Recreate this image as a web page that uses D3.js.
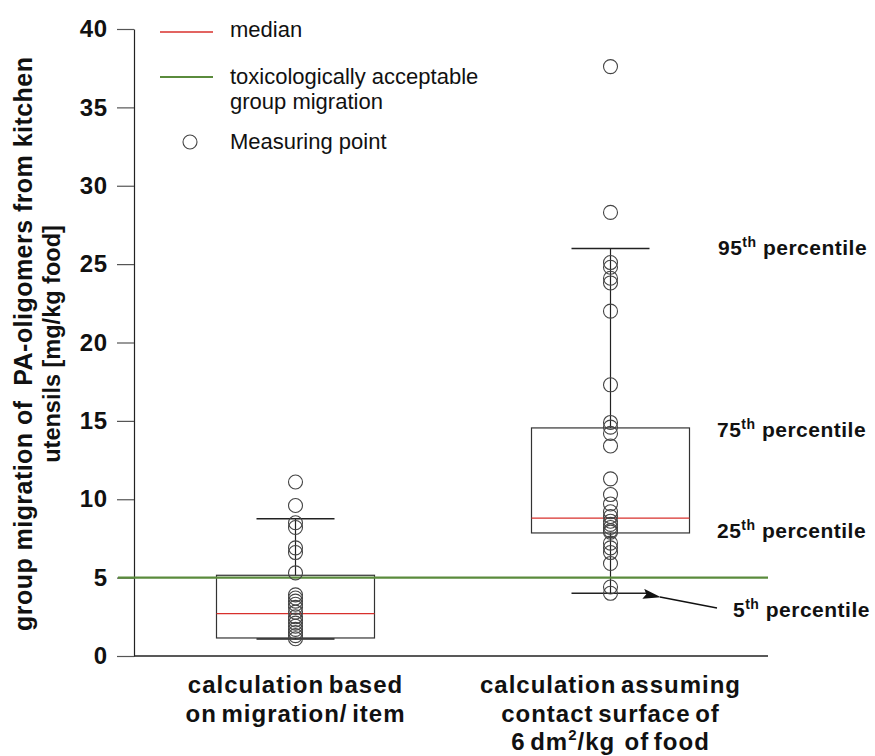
<!DOCTYPE html>
<html>
<head>
<meta charset="utf-8">
<script src="https://cdn.jsdelivr.net/npm/d3@7/dist/d3.min.js"></script>
<style>
  html, body { margin: 0; padding: 0; background: #fff; }
  svg { display: block; font-family: "Liberation Sans", Arial, sans-serif; }
  text { white-space: pre; }
</style>
</head>
<body>
<svg id="chart" width="875" height="756"></svg>
<script>
// ---- data ----
const categories = ["item", "surface"];
const categoryLabels = [
  ["calculation based", "on migration/ item"],
  ["calculation assuming", "contact surface of", "6 dm²/kg  of food"]
];
const p05 = [1.08, 4.0];
const p25 = [1.15, 7.85];
const median = [2.7, 8.8];
const p75 = [5.15, 14.55];
const p95 = [8.75, 26.0];
const pointsItem = [11.1, 9.6, 8.5, 8.2, 6.9, 6.6, 5.3, 3.9, 3.7, 3.5, 3.3, 3.1, 2.8, 2.5, 2.3, 2.1, 1.9, 1.7, 1.5, 1.3, 1.1];
const pointsSurface = [37.6, 28.3, 25.1, 24.8, 24.1, 23.8, 22.0, 17.3, 14.9, 14.6, 14.2, 13.4, 11.3, 10.3, 9.7, 9.2, 8.9, 8.6, 8.4, 8.2, 8.0, 7.9, 7.2, 6.9, 6.6, 5.9, 4.4, 4.0];
const toxLimit = 5.0;
const yTicks = [0, 5, 10, 15, 20, 25, 30, 35, 40];
const percentileLabels = [
  {num: "95", value: 26.0},
  {num: "75", value: 14.55},
  {num: "25", value: 7.85},
  {num: "5", value: 4.0}
];
const yTitle = ["group migration of  PA-oligomers from kitchen", "utensils [mg/kg food]"];
const legendItems = ["median", "toxicologically acceptable|group migration", "Measuring point"];

// ---- layout ----
const svg = d3.select("#chart");
const axisX = 134, axisRight = 768;
const y = d3.scaleLinear().domain([0, 40]).range([656, 29]);
const x = d3.scalePoint().domain(categories).range([138, 768]).padding(0.5);
const boxW = 158, capW = 78;
const RED = "#d8302c", GREEN = "#5a8b3c", INK = "#222";

// y axis
const yAxis = d3.axisLeft(y).tickValues(yTicks).tickSize(17).tickSizeOuter(0).tickPadding(9);
const gy = svg.append("g").attr("transform", `translate(${axisX},0)`).call(yAxis);
gy.select(".domain").attr("stroke", INK).attr("stroke-width", 1.2);
gy.selectAll(".tick line").attr("stroke", "#555").attr("stroke-width", 1.2);
gy.selectAll(".tick text").attr("font-size", 24).attr("font-weight", "bold")
  .attr("fill", "#111").attr("font-family", "Liberation Sans, Arial, sans-serif")
  .attr("letter-spacing", 0.8);

// x axis line
const xAxis = d3.axisBottom(x).tickSize(0).tickFormat("");
const gx = svg.append("g").attr("transform", `translate(0,${y(0)})`).call(xAxis);
gx.select(".domain").attr("d", `M${axisX},0H${axisRight}`).attr("stroke", INK).attr("stroke-width", 1.5);

// category labels
categories.forEach((c, i) => {
  const t = svg.append("text").attr("text-anchor", "middle")
    .attr("font-size", 24).attr("font-weight", "bold").attr("fill", "#111")
    .attr("letter-spacing", 1).attr("word-spacing", -3);
  categoryLabels[i].forEach((line, j) => {
    const ts = t.append("tspan").attr("x", x(c)).attr("y", 693 + j * 28.5);
    if (line.indexOf("²") >= 0) {
      const parts = line.split("²");
      ts.append("tspan").text(parts[0]);
      ts.append("tspan").text("2").attr("font-size", 15).attr("dy", -10);
      ts.append("tspan").text(parts[1]).attr("dy", 10);
    } else ts.text(line);
  });
});

// y title
const yt = svg.append("g").attr("transform", "translate(0,344) rotate(-90)");
yTitle.forEach((line, j) => {
  const t = yt.append("text").attr("x", 0).attr("y", 32 + j * 28).attr("text-anchor", "middle")
    .attr("font-size", j === 0 ? 25 : 23.5).attr("font-weight", "bold").attr("fill", "#111")
    .text(line);
  if (j === 0) t.attr("textLength", 574).attr("lengthAdjust", "spacing");
});

// boxes
const boxes = categories.map((c, i) => ({c, p05: p05[i], p25: p25[i], med: median[i], p75: p75[i], p95: p95[i]}));
const gb = svg.append("g");
boxes.forEach(b => {
  const cx = x(b.c);
  gb.append("line").attr("x1", cx).attr("x2", cx).attr("y1", y(b.p95)).attr("y2", y(b.p75)).attr("stroke", INK).attr("stroke-width", 1.2);
  gb.append("line").attr("x1", cx).attr("x2", cx).attr("y1", y(b.p25)).attr("y2", y(b.p05)).attr("stroke", INK).attr("stroke-width", 1.2);
  gb.append("rect").attr("x", cx - boxW / 2).attr("width", boxW)
    .attr("y", y(b.p75)).attr("height", y(b.p25) - y(b.p75))
    .attr("fill", "none").attr("stroke", "#333").attr("stroke-width", 1.2);
  gb.append("line").attr("x1", cx - capW / 2).attr("x2", cx + capW / 2).attr("y1", y(b.p95)).attr("y2", y(b.p95)).attr("stroke", INK).attr("stroke-width", 1.5);
  gb.append("line").attr("x1", cx - capW / 2).attr("x2", cx + capW / 2).attr("y1", y(b.p05)).attr("y2", y(b.p05)).attr("stroke", INK).attr("stroke-width", 1.5);
  gb.append("line").attr("x1", cx - boxW / 2).attr("x2", cx + boxW / 2).attr("y1", y(b.med)).attr("y2", y(b.med)).attr("stroke", RED).attr("stroke-width", 1.3);
});

// toxicological limit
svg.append("line").attr("x1", 118).attr("x2", axisRight).attr("y1", y(toxLimit)).attr("y2", y(toxLimit))
  .attr("stroke", GREEN).attr("stroke-width", 2.2);

// points
const gp = svg.append("g").attr("fill", "none").attr("stroke", "#444").attr("stroke-width", 1.1);
[pointsItem, pointsSurface].forEach((pts, i) => {
  gp.selectAll(null).data(pts).enter().append("circle")
    .attr("cx", x(categories[i])).attr("cy", d => y(d)).attr("r", 7);
});

// legend
const lg = svg.append("g").attr("font-size", 22).attr("fill", "#111");
lg.append("line").attr("x1", 160).attr("x2", 213).attr("y1", 32).attr("y2", 32).attr("stroke", RED).attr("stroke-width", 1.3);
lg.append("text").attr("x", 230).attr("y", 37).text(legendItems[0]);
lg.append("line").attr("x1", 160).attr("x2", 213).attr("y1", 77).attr("y2", 77).attr("stroke", GREEN).attr("stroke-width", 2.2);
const t2 = lg.append("text");
legendItems[1].split("|").forEach((s, j) => t2.append("tspan").attr("x", 230).attr("y", 84 + j * 25).text(s));
lg.append("circle").attr("cx", 190).attr("cy", 142).attr("r", 7).attr("fill", "none").attr("stroke", "#444").attr("stroke-width", 1.1);
lg.append("text").attr("x", 230).attr("y", 149).text(legendItems[2]);

// percentile labels
const pl = svg.append("g").attr("font-size", 21).attr("font-weight", "bold").attr("fill", "#111")
  .attr("letter-spacing", 0.5);
const plPos = [{x: 718, y: 255}, {x: 717, y: 437}, {x: 717, y: 538}, {x: 733, y: 617}];
percentileLabels.forEach((p, i) => {
  const t = pl.append("text").attr("x", plPos[i].x).attr("y", plPos[i].y);
  t.append("tspan").text(p.num);
  t.append("tspan").text("th").attr("font-size", 14).attr("dy", -8);
  t.append("tspan").text(" percentile").attr("dy", 8);
});

// arrow to 5th percentile
svg.append("defs").append("marker").attr("id", "ah").attr("viewBox", "0 0 18 10")
  .attr("refX", 1).attr("refY", 5).attr("markerWidth", 18).attr("markerHeight", 10)
  .attr("preserveAspectRatio", "none")
  .attr("markerUnits", "userSpaceOnUse").attr("orient", "auto")
  .append("path").attr("d", "M18,0L0,5L18,10L15,5Z").attr("fill", "#111");
svg.append("line").attr("x1", 717).attr("y1", 608).attr("x2", 660).attr("y2", 597)
  .attr("stroke", "#111").attr("stroke-width", 1.3).attr("marker-end", "url(#ah)");
</script>
</body>
</html>
